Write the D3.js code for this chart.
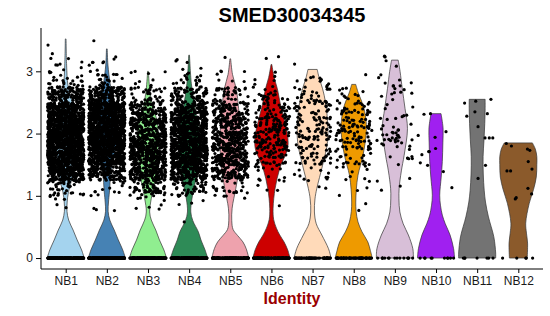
<!DOCTYPE html>
<meta charset="utf-8">
<head>
  <title>SMED30034345 violin</title>
</head>

<style>
  body {
    margin: 0;
    font-family: "Liberation Sans", Arial, Helvetica, sans-serif;
    background: #fff;
  }
  .axis text { font-size: 12px; fill: #1a1a1a; font-family: "Liberation Sans", Arial, sans-serif; }
  .axis path, .axis line { stroke: #000; }
</style>

<body>
<svg width="550" height="316"></svg>

<script src="https://cdnjs.cloudflare.com/ajax/libs/d3/7.8.5/d3.min.js"></script>
<script>
  // clusters and their fill colours
  var groups = ["NB1", "NB2", "NB3", "NB4", "NB5", "NB6", "NB7", "NB8", "NB9", "NB10", "NB11", "NB12"];
  var colors = ["#A4D3EE", "#4682B4", "#90EE90", "#2E8B57", "#EEA2AD", "#CD0000",
                "#FFDAB9", "#EE9A00", "#D8BFD8", "#A020F0", "#737373", "#8B5A2B"];
  var yTicks = [0, 1, 2, 3];

  // violin outline per cluster: [expression, relative width]
  var profiles = [
    [[0,1],[0.13,0.86],[0.29,0.62],[0.45,0.4],[0.61,0.16],[0.75,0.07],[0.9,0.08],[1.06,0.15],[1.3,0.35],[1.7,0.5],[2.1,0.5],[2.5,0.35],[2.78,0.12],[3.1,0.05],[3.52,0.02]],
    [[0,1],[0.13,0.86],[0.29,0.62],[0.45,0.4],[0.61,0.16],[0.75,0.07],[0.9,0.09],[1.06,0.14],[1.39,0.23],[1.8,0.5],[2.2,0.5],[2.6,0.3],[2.8,0.18],[3.1,0.06],[3.36,0.02]],
    [[0,1],[0.13,0.86],[0.29,0.62],[0.45,0.42],[0.61,0.18],[0.74,0.09],[0.96,0.18],[1.3,0.4],[1.8,0.55],[2.2,0.5],[2.4,0.27],[2.7,0.1],[3.0,0.02]],
    [[0,1],[0.13,0.86],[0.29,0.64],[0.42,0.5],[0.6,0.2],[0.74,0.09],[0.95,0.15],[1.17,0.3],[1.6,0.55],[2.0,0.55],[2.4,0.32],[2.8,0.12],[3.26,0.02]],
    [[0,1],[0.15,0.86],[0.26,0.68],[0.36,0.4],[0.46,0.15],[0.6,0.08],[0.8,0.1],[1.12,0.3],[1.5,0.5],[2.0,0.55],[2.4,0.45],[2.72,0.32],[2.95,0.12],[3.2,0.02]],
    [[0,1],[0.13,0.88],[0.26,0.68],[0.37,0.45],[0.48,0.27],[0.62,0.12],[0.8,0.09],[1.12,0.2],[1.44,0.45],[1.77,0.88],[2.0,0.86],[2.19,0.72],[2.45,0.5],[2.72,0.32],[2.9,0.15],[3.11,0.02]],
    [[0,1],[0.15,0.86],[0.37,0.5],[0.55,0.2],[0.74,0.1],[0.95,0.13],[1.12,0.23],[1.49,0.54],[1.87,0.81],[2.19,0.81],[2.5,0.7],[2.72,0.54],[2.9,0.35],[3.03,0.25]],
    [[0,1],[0.12,0.9],[0.26,0.76],[0.42,0.45],[0.58,0.23],[0.75,0.13],[0.9,0.11],[1.1,0.14],[1.33,0.23],[1.65,0.5],[2.03,0.68],[2.25,0.65],[2.46,0.5],[2.65,0.25],[2.79,0.11]],
    [[0,1],[0.15,0.97],[0.37,0.73],[0.55,0.45],[0.74,0.27],[0.95,0.22],[1.12,0.23],[1.4,0.35],[1.65,0.5],[2.08,0.68],[2.4,0.55],[2.72,0.4],[3.0,0.28],[3.18,0.18]],
    [[0,1],[0.15,0.95],[0.37,0.76],[0.55,0.5],[0.69,0.34],[0.85,0.24],[1.01,0.2],[1.3,0.28],[1.55,0.34],[1.85,0.37],[2.09,0.38],[2.32,0.27]],
    [[0,1],[0.08,1.0],[0.34,0.9],[0.66,0.61],[0.9,0.45],[1.09,0.38],[1.35,0.33],[1.63,0.32],[1.9,0.37],[2.16,0.41],[2.4,0.43],[2.55,0.43]],
    [[0,0.48],[0.24,0.5],[0.4,0.44],[0.56,0.4],[0.88,0.59],[1.1,0.82],[1.3,0.97],[1.5,1.0],[1.63,1.0],[1.75,0.92],[1.85,0.76]]
  ];

  // cells with zero expression per cluster
  var zeroCounts = [250, 250, 200, 200, 160, 120, 60, 60, 15, 10, 7, 5];

  // non-zero cells, counted in 0.25 wide bins starting at these values
  var binStarts = [0.5, 0.75, 1.0, 1.25, 1.5, 1.75, 2.0, 2.25, 2.5, 2.75, 3.0, 3.25];
  var binCounts = [
    [0, 5, 40, 230, 320, 330, 330, 260, 120, 22, 8, 2],
    [0, 3, 14, 140, 300, 350, 350, 280, 140, 22, 8, 1],
    [0, 8, 60, 150, 180, 180, 150, 100, 35, 8, 0, 0],
    [1, 4, 45, 170, 240, 250, 230, 160, 70, 16, 5, 0],
    [0, 3, 20, 100, 140, 140, 120, 85, 40, 6, 2, 0],
    [0, 1, 4, 12, 40, 60, 60, 40, 20, 6, 2, 0],
    [0, 0, 3, 10, 30, 35, 35, 30, 25, 10, 1, 0],
    [0, 2, 4, 8, 20, 35, 40, 30, 12, 1, 0, 0],
    [0, 0, 3, 1, 8, 20, 12, 6, 8, 8, 4, 0]
  ];

  // the three small clusters, read cell by cell
  var nb10Values = [2.32, 2.31, 2.03, 1.97, 1.94, 1.76, 1.71, 1.71, 1.66, 1.53, 1.49, 1.39, 1.13];
  var nb11Values = [2.55, 2.52, 2.49, 2.35, 2.32, 2.28, 2.11, 1.93, 1.93, 1.93, 1.49, 1.28];
  var nb12Values = [1.84, 1.80, 1.75, 1.73, 1.55, 1.43, 1.40, 1.40, 1.12, 1.03, 0.97, 0.95];

  var svg = d3.select("svg");
  var plotLeft = 41, plotRight = 543, plotTop = 28, plotBottom = 269;

  var x = d3.scalePoint()
    .domain(groups)
    .range([plotLeft, plotRight])
    .padding(0.6);

  var y = d3.scaleLinear()
    .domain([-0.176, 3.696])
    .range([plotBottom, plotTop]);

  var step = x.step();
  var violinWidth = step * 0.9;
  var jitter = step * 0.44;

  // violins
  groups.forEach(function(g, i) {
    var cx = x(g);
    var area = d3.area()
      .y(function(d) { return y(d[0]); })
      .x0(function(d) { return cx - d[1] * violinWidth / 2; })
      .x1(function(d) { return cx + d[1] * violinWidth / 2; })
      .curve(d3.curveCatmullRom.alpha(0.5));
    svg.append("path")
      .attr("d", area(profiles[i]) + "Z")
      .attr("fill", colors[i])
      .attr("stroke", "#333")
      .attr("stroke-width", 0.7);
  });

  // build cell list; horizontal jitter and spread inside a bin use a fixed hash
  function frac(v) { return v - Math.floor(v); }
  function hash(a) { return frac(Math.sin(a * 12.9898 + 78.233) * 43758.5453); }
  var cells = [];
  groups.forEach(function(g, i) {
    var n = 0;
    function add(val) {
      cells.push({ g: g, v: val, dx: hash(i * 5000 + n) * 2 - 1 });
      n++;
    }
    for (var z = 0; z < zeroCounts[i]; z++) add(0);
    if (i < binCounts.length) {
      binCounts[i].forEach(function(c, b) {
        for (var k = 0; k < c; k++) add(binStarts[b] + 0.25 * hash(i * 7000 + b * 500 + k + 0.5));
      });
    } else {
      var vals = [nb10Values, nb11Values, nb12Values][i - binCounts.length];
      vals.forEach(add);
    }
  });

  svg.append("g")
    .selectAll("circle")
    .data(cells)
    .enter()
    .append("circle")
    .attr("cx", function(d) { return x(d.g) + d.dx * jitter; })
    .attr("cy", function(d) { return y(d.v); })
    .attr("r", 1.6)
    .attr("fill", "#000");

  // axes
  svg.append("g")
    .attr("class", "axis")
    .attr("transform", "translate(0," + plotBottom + ")")
    .call(d3.axisBottom(x).tickSize(4).tickPadding(3).tickSizeOuter(0))
    .call(function(s) { s.select(".domain").attr("d", "M" + plotLeft + ",0H" + plotRight); });

  svg.append("g")
    .attr("class", "axis")
    .attr("transform", "translate(" + plotLeft + ",0)")
    .call(d3.axisLeft(y).tickValues(yTicks).tickFormat(d3.format("d")).tickSize(5).tickPadding(3).tickSizeOuter(0))
    .call(function(s) { s.select(".domain").attr("d", "M0," + plotBottom + "V" + plotTop); });

  svg.selectAll(".axis .domain").attr("stroke-width", 1);

  svg.append("text")
    .attr("x", (plotLeft + plotRight) / 2)
    .attr("y", 22)
    .attr("text-anchor", "middle")
    .style("font-size", "20px")
    .style("font-weight", "bold")
    .text("SMED30034345");

  svg.append("text")
    .attr("x", (plotLeft + plotRight) / 2)
    .attr("y", 304)
    .attr("text-anchor", "middle")
    .style("font-size", "16px")
    .style("font-weight", "bold")
    .style("fill", "#9A0000")
    .text("Identity");
</script>
</body>
</html>
